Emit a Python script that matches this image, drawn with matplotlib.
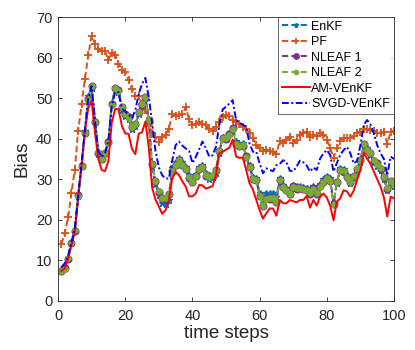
import matplotlib
matplotlib.use("Agg")
import matplotlib.pyplot as plt
import numpy as np

plt.rcParams['font.family'] = ['Liberation Sans', 'DejaVu Sans']

# time axis
steps = np.arange(1, 101)

# bias of each filter
enkf = [7.6, 8.2, 10.7, 14.2, 17.6, 25.8, 33.5, 41.8, 50.5, 52.6,
        44.3, 36.2, 35.2, 36.8, 39.5, 48.8, 52.0, 51.5, 47.2, 45.5,
        44.8, 42.5, 43.2, 46.2, 48.8, 50.0, 44.8, 33.0, 28.8, 26.2,
        24.2, 24.0, 25.0, 32.8, 34.3, 35.3, 34.2, 33.0, 31.0, 29.8,
        31.2, 33.0, 33.4, 31.5, 30.0, 30.5, 31.5, 36.5, 40.5, 40.5,
        41.5, 43.0, 39.5, 38.8, 39.0, 35.2, 33.6, 30.5, 30.4, 26.6,
        24.2, 26.5, 26.6, 26.5, 25.6, 30.4, 28.6, 27.8, 26.8, 28.7,
        28.4, 28.3, 28.2, 27.8, 27.2, 28.3, 27.0, 28.8, 30.0, 30.8,
        30.2, 24.3, 29.0, 32.8, 32.5, 31.0, 29.0, 30.2, 32.3, 34.3,
        38.3, 37.6, 36.0, 34.3, 33.3, 32.3, 30.0, 27.3, 29.2, 28.3]

pf = [14.0, 16.7, 20.6, 26.7, 32.4, 42.0, 48.5, 54.6, 60.6, 65.4,
      63.4, 62.0, 61.5, 61.5, 59.5, 61.2, 60.7, 58.5, 57.0, 56.5,
      54.5, 52.2, 50.5, 50.5, 48.5, 47.0, 43.2, 41.5, 40.5, 39.2,
      40.5, 41.0, 42.5, 46.0, 45.6, 45.8, 46.0, 47.8, 44.8, 43.5,
      43.7, 44.0, 43.6, 43.4, 42.3, 41.8, 42.9, 44.2, 45.4, 45.8,
      45.6, 44.6, 44.2, 43.6, 43.0, 42.3, 41.5, 40.1, 38.4, 37.6,
      37.0, 37.2, 36.9, 36.7, 36.2, 39.5, 39.0, 39.7, 40.5, 39.0,
      39.7, 40.9, 41.4, 41.7, 40.5, 40.9, 40.7, 41.5, 41.0, 39.7,
      37.8, 35.2, 37.8, 39.5, 40.2, 40.2, 40.2, 40.6, 41.3, 41.7,
      42.3, 42.3, 42.2, 42.0, 41.4, 41.5, 41.7, 38.8, 41.7, 42.0]

nleaf1 = [7.4, 8.1, 10.4, 14.4, 17.3, 26.1, 33.2, 41.5, 49.7, 53.1,
          44.1, 36.6, 35.0, 36.4, 39.1, 48.5, 52.5, 51.9, 47.7, 46.1,
          45.3, 42.9, 43.7, 46.6, 48.4, 50.4, 44.4, 33.8, 29.6, 26.9,
          25.4, 25.2, 26.4, 32.1, 33.4, 34.8, 33.4, 32.6, 30.4, 29.4,
          30.7, 32.6, 33.1, 30.9, 30.7, 30.9, 32.4, 36.9, 40.2, 40.0,
          41.1, 42.6, 38.7, 38.3, 38.3, 35.7, 33.0, 30.1, 29.8, 26.0,
          23.3, 25.3, 25.2, 25.4, 24.4, 29.9, 28.1, 27.4, 26.3, 28.3,
          27.7, 27.9, 27.6, 27.4, 26.4, 27.8, 26.4, 28.3, 29.3, 30.3,
          29.5, 23.8, 29.3, 32.4, 31.9, 30.6, 29.3, 30.8, 32.6, 34.8,
          38.8, 37.1, 36.6, 34.6, 33.9, 32.6, 30.6, 27.7, 29.7, 28.6]

nleaf2 = [7.5, 8.0, 10.5, 14.3, 17.4, 26.0, 33.3, 41.4, 49.6, 53.0,
          44.0, 36.7, 34.9, 36.5, 39.0, 48.4, 52.4, 51.8, 47.8, 46.0,
          45.2, 43.0, 43.6, 46.5, 48.5, 50.3, 44.5, 33.7, 29.5, 27.0,
          25.3, 25.3, 26.3, 32.0, 33.5, 34.7, 33.5, 32.5, 30.5, 29.3,
          30.8, 32.5, 33.0, 31.0, 30.6, 31.0, 32.3, 37.0, 40.1, 40.1,
          41.0, 42.5, 38.8, 38.2, 38.4, 35.6, 33.1, 30.0, 29.9, 25.9,
          23.4, 25.2, 25.3, 25.3, 24.5, 29.8, 28.2, 27.3, 26.4, 28.2,
          27.8, 27.8, 27.7, 27.3, 26.5, 27.7, 26.5, 28.2, 29.4, 30.2,
          29.6, 23.7, 29.4, 32.3, 32.0, 30.5, 29.4, 30.7, 32.7, 34.7,
          38.7, 37.2, 36.5, 34.7, 33.8, 32.7, 30.5, 27.8, 29.6, 28.7]

am_venkf = [7.4, 8.0, 10.5, 13.8, 17.0, 25.5, 33.5, 42.0, 47.5, 49.3,
            41.5, 35.0, 32.3, 32.0, 34.5, 44.0, 47.3, 47.3, 43.2, 41.3,
            41.2, 37.5, 36.2, 41.2, 41.6, 44.2, 38.0, 28.0, 25.0, 23.3,
            21.5, 22.4, 24.9, 30.2, 31.8, 31.0, 29.5, 28.2, 25.8, 25.8,
            26.5, 28.6, 28.5, 27.7, 28.0, 28.3, 31.0, 36.4, 36.8, 37.3,
            37.8, 39.8, 35.6, 35.3, 35.3, 32.3, 29.0, 27.5, 24.9, 22.4,
            20.3, 21.6, 22.8, 22.8, 21.0, 24.9, 24.1, 24.1, 24.9, 24.6,
            24.3, 24.9, 24.9, 25.9, 23.0, 24.9, 23.5, 25.7, 26.5, 25.5,
            23.5, 19.9, 24.5, 25.3, 27.3, 27.0, 25.7, 27.2, 29.8, 32.3,
            36.5, 35.1, 33.8, 31.9, 30.0, 28.2, 25.5, 20.8, 25.7, 25.3]

svgd_venkf = [8.3, 9.3, 11.2, 14.5, 18.0, 26.0, 33.8, 42.0, 50.0, 53.0,
              44.5, 37.0, 35.5, 36.5, 39.5, 48.0, 51.5, 51.5, 47.5, 46.7,
              46.0, 45.0, 47.0, 51.0, 53.5, 55.0, 50.3, 44.0, 37.0, 33.0,
              31.0, 30.2, 30.2, 34.7, 38.4, 39.3, 38.3, 37.6, 37.0, 34.0,
              35.5, 37.4, 39.3, 37.6, 35.6, 35.9, 38.0, 43.4, 47.2, 47.9,
              48.7, 49.5, 44.6, 44.0, 43.4, 43.0, 38.8, 36.8, 36.8, 33.9,
              31.5, 32.7, 32.3, 32.0, 33.5, 33.8, 34.7, 34.2, 32.1, 32.0,
              33.1, 34.6, 34.2, 33.4, 31.9, 32.9, 32.3, 35.1, 36.4, 37.2,
              36.0, 31.9, 34.0, 36.0, 37.2, 38.0, 36.4, 33.9, 34.5, 38.4,
              43.4, 44.6, 43.5, 41.3, 38.4, 36.4, 35.0, 31.0, 35.6, 35.0]

fig = plt.figure(figsize=(4.15, 3.5), dpi=100)
ax = fig.add_axes([0.1398, 0.14, 0.8096, 0.8114])

lw = 1.4
dash = (3.2, 1.6)
ax.plot(steps, enkf, '--', dashes=dash, color='#0072BD', lw=lw, marker='*', ms=4.5, label='EnKF')
ax.plot(steps, pf, '--', dashes=dash, color='#D95319', lw=lw, marker='+', ms=5.5, mew=1.3, label='PF')
ax.plot(steps, nleaf1, '--', dashes=dash, color='#7E2F8E', lw=lw, marker='o', ms=4.8,
        mfc='#7E2F8E', mec='#7E2F8E', label='NLEAF 1')
ax.plot(steps, nleaf2, '--', dashes=dash, color='#77AC30', lw=lw, marker='o', ms=3.8,
        mfc='#77AC30', mec='#77AC30', label='NLEAF 2')
ax.plot(steps, am_venkf, '-', color='red', lw=lw, label='AM-VEnKF')
ax.plot(steps, svgd_venkf, '-.', dashes=(3.5, 1.3, 1.0, 1.3), color='blue', lw=lw,
        label='SVGD-VEnKF')

ax.set_xlim(0, 100)
ax.set_ylim(0, 70)
ax.set_xticks(np.arange(0, 101, 20))
ax.set_yticks(np.arange(0, 71, 10))

grey = '#262626'
ax.tick_params(direction='in', length=3, width=0.6, colors=grey, labelsize=10.5,
               top=True, right=True)
ax.tick_params(axis='x', pad=6)
ax.tick_params(axis='y', pad=4)
for sp in ax.spines.values():
    sp.set_color(grey)
    sp.set_linewidth(0.6)

ax.set_xlabel('time steps', fontsize=13.5, color=grey, labelpad=1)
ax.set_ylabel('Bias', fontsize=13.5, color=grey, labelpad=4)

leg = ax.legend(loc='upper right', fontsize=9, frameon=True, fancybox=False,
                borderaxespad=0, handlelength=2.2, handletextpad=0.15,
                labelspacing=0.28, borderpad=0.3, markerscale=0.8)
leg.get_frame().set_edgecolor(grey)
leg.get_frame().set_linewidth(0.6)

fig.savefig('out.png', dpi=100)
